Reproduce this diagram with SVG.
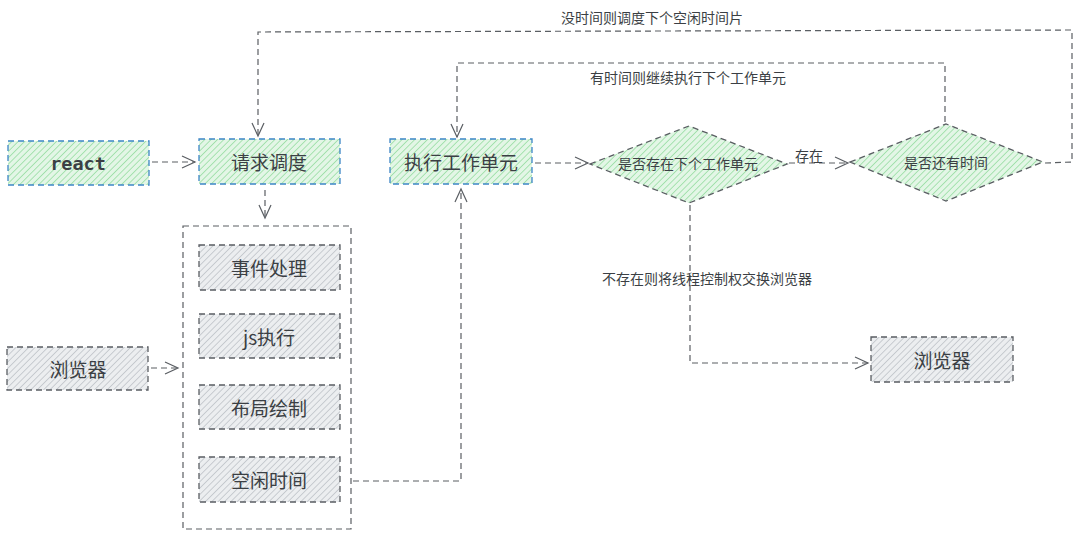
<svg xmlns="http://www.w3.org/2000/svg" width="1080" height="536" viewBox="0 0 1080 536">
<style>
.txt{font-family:"Noto Sans CJK SC","Noto Sans",sans-serif;fill:#3b3f44;text-anchor:middle;dominant-baseline:central}
.big{font-size:19px}
.small{font-size:14px}
.mono{font-family:"DejaVu Sans Mono","Liberation Mono",monospace;font-weight:bold;font-size:18.5px}
.gbox{fill:url(#hg);stroke:#3d86c6;stroke-width:1.3;stroke-dasharray:6 4}
.grey{fill:url(#hk);stroke:#5a5e63;stroke-width:1.3;stroke-dasharray:6 4}
.dia{fill:url(#hg);stroke:#5a5e63;stroke-width:1.3;stroke-dasharray:6 4}
.con{fill:none;stroke:#5a5e63;stroke-width:1.2;stroke-dasharray:6 4}
</style>
<defs>
<pattern id="hg" width="4.5" height="4.5" patternUnits="userSpaceOnUse" patternTransform="rotate(45)">
<rect width="4.5" height="4.5" fill="#e3f6e6"/>
<line x1="0" y1="0" x2="0" y2="4.5" stroke="#93dc9e" stroke-width="1.5"/>
</pattern>
<pattern id="hk" width="4.5" height="4.5" patternUnits="userSpaceOnUse" patternTransform="rotate(45)">
<rect width="4.5" height="4.5" fill="#eceef0"/>
<line x1="0" y1="0" x2="0" y2="4.5" stroke="#bcc1c6" stroke-width="1.5"/>
</pattern>
<marker id="ah" markerWidth="16" markerHeight="14" refX="14" refY="7" orient="auto" markerUnits="userSpaceOnUse">
<path d="M1,1 L14,7 L1,13" fill="none" stroke="#5a5e63" stroke-width="1.2"/>
</marker>
</defs>

<g id="connectors">
<line class="con" x1="152" y1="162" x2="195" y2="162" marker-end="url(#ah)"/>
<line class="con" x1="265" y1="190" x2="265" y2="218" marker-end="url(#ah)"/>
<line class="con" x1="151" y1="368" x2="178" y2="368" marker-end="url(#ah)"/>
<polyline class="con" points="353,481 461,481 461,189" marker-end="url(#ah)"/>
<line class="con" x1="535" y1="163" x2="588" y2="163" marker-end="url(#ah)"/>
<line class="con" x1="789" y1="163" x2="848" y2="163" marker-end="url(#ah)"/>
<polyline class="con" points="1045,163 1072,162 1072,30 258,32 258,136" marker-end="url(#ah)"/>
<polyline class="con" points="945,122 945,63 457,63 457,137" marker-end="url(#ah)"/>
<polyline class="con" points="690,205 690,363 868,363" marker-end="url(#ah)"/>
<text class="txt small" x="652" y="17">没时间则调度下个空闲时间片</text>
<text class="txt small" x="688" y="77">有时间则继续执行下个工作单元</text>
<text class="txt small" x="809" y="155">存在</text>
<text class="txt small" x="707" y="278">不存在则将线程控制权交换浏览器</text>
</g>

<g id="react">
<rect class="gbox" x="8" y="141" width="141" height="44"/>
<text class="txt mono" x="78" y="163">react</text>
</g>
<g id="request">
<rect class="gbox" x="199" y="139" width="141" height="45"/>
<text class="txt big" x="269" y="161">请求调度</text>
</g>
<g id="exec">
<rect class="gbox" x="390" y="139" width="142" height="45"/>
<text class="txt big" x="461" y="161">执行工作单元</text>
</g>
<g id="dia1">
<polygon class="dia" points="590,164 689,126 787,164 689,203"/>
<text class="txt small" x="688" y="163">是否存在下个工作单元</text>
</g>
<g id="dia2">
<polygon class="dia" points="850,162 946,124 1043,162 946,201"/>
<text class="txt small" x="946" y="162">是否还有时间</text>
</g>
<g id="browser-left">
<rect class="grey" x="7" y="347" width="141" height="43"/>
<text class="txt big" x="78" y="368">浏览器</text>
</g>
<g id="browser-right">
<rect class="grey" x="871" y="337" width="142" height="45"/>
<text class="txt big" x="942" y="359">浏览器</text>
</g>
<g id="container">
<rect class="con" x="183" y="226" width="168" height="303"/>
</g>
<g id="event">
<rect class="grey" x="199" y="245" width="141" height="45"/>
<text class="txt big" x="269" y="267">事件处理</text>
</g>
<g id="js">
<rect class="grey" x="199" y="314" width="141" height="44"/>
<text class="txt big" x="269" y="336">js执行</text>
</g>
<g id="layout">
<rect class="grey" x="199" y="385" width="141" height="44"/>
<text class="txt big" x="269" y="407">布局绘制</text>
</g>
<g id="idle">
<rect class="grey" x="199" y="457" width="141" height="45"/>
<text class="txt big" x="269" y="479">空闲时间</text>
</g>
</svg>
